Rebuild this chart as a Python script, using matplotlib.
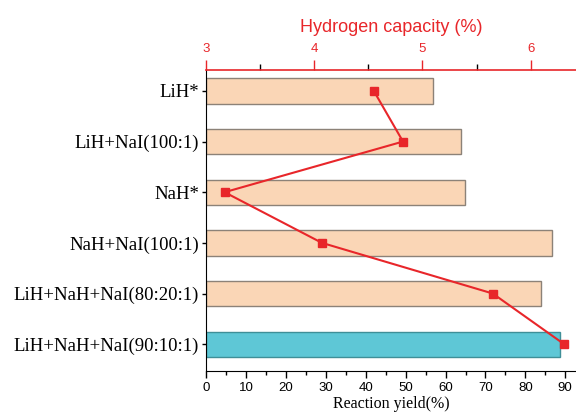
import numpy as np
import matplotlib.pyplot as plt

samples = ['LiH*', 'LiH+NaI(100:1)', 'NaH*', 'NaH+NaI(100:1)',
           'LiH+NaH+NaI(80:20:1)', 'LiH+NaH+NaI(90:10:1)']
reaction_yield = [56.9, 63.8, 64.8, 86.6, 83.9, 88.6]
h2_capacity = [4.55, 4.82, 3.17, 4.07, 5.65, 6.31]

red = '#e8262a'
bar_colors = ['#fad6b6'] * 5 + ['#5ec7d6']
edge_colors = ['#8c8278'] * 5 + ['#3f8f98']

fig = plt.figure(figsize=(5.76, 4.15), dpi=100)
ax = fig.add_axes([0.358, 0.106, 0.642, 0.725])

y = np.arange(len(samples))
ax.barh(y, reaction_yield, height=0.5, color=bar_colors,
        edgecolor=edge_colors, linewidth=1.0, zorder=2)
ax.set_ylim(5.53, -0.41)
ax.set_yticks(y)
ax.set_yticklabels(samples, family='Liberation Serif', fontsize=13.5)
ax.set_xlim(0, 92.7)
ax.set_xticks(np.arange(0, 91, 10))
ax.set_xticks(np.arange(5, 91, 10), minor=True)
for lab in ax.get_xticklabels():
    lab.set_family('Liberation Sans')
    lab.set_fontsize(9.5)
ax.set_xlabel('Reaction yield(%)', family='Liberation Serif', fontsize=11.5, labelpad=1)
ax.tick_params(axis='y', direction='out', length=3, width=1, pad=2)
ax.tick_params(axis='x', direction='out', length=5, width=1, pad=3)
ax.tick_params(axis='x', which='minor', length=3, width=1)
ax.spines['right'].set_visible(False)
ax.spines['top'].set_visible(False)

# hydrogen capacity on the top axis
ax2 = ax.twiny()
ax2.plot(h2_capacity, y, color=red, lw=1.5, marker='s', ms=5.5, zorder=3,
         clip_on=False)
ax2.set_xlim(3, 6.42)
ax2.set_xticks([3, 4, 5, 6])
ax2.set_xticks([3.5, 4.5, 5.5], minor=True)
ax2.tick_params(axis='x', colors=red, direction='out', length=7, width=1, pad=4)
ax2.tick_params(axis='x', which='minor', direction='out', length=4, width=1)
for lab in ax2.get_xticklabels():
    lab.set_family('Liberation Sans')
    lab.set_fontsize(9.5)
ax2.spines['top'].set_color(red)
ax2.spines['top'].set_linewidth(1.2)
ax2.spines['right'].set_visible(False)
ax2.spines['bottom'].set_visible(False)
ax2.spines['left'].set_visible(False)
ax2.set_xlabel('Hydrogen capacity (%)', color=red, family='Liberation Sans',
               fontsize=13, labelpad=8)
ax2.set_ylim(5.53, -0.41)

fig.savefig('out.png', dpi=100)
